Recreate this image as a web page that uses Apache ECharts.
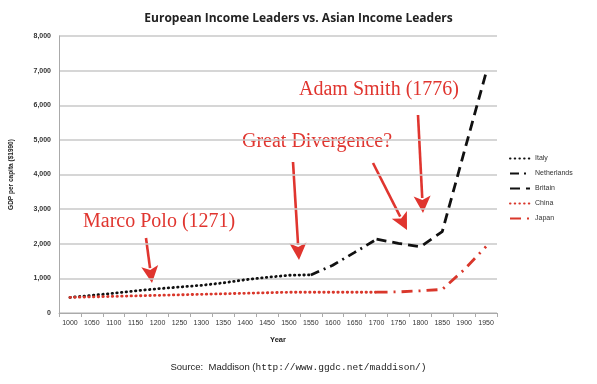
<!DOCTYPE html>
<html>
<head>
<meta charset="utf-8">
<script src="https://cdn.jsdelivr.net/npm/echarts@6/dist/echarts.min.js"></script>
<style>
html,body{margin:0;padding:0;background:#fff;}
#chart{width:597px;height:384px;}
</style>
</head>
<body>
<div id="chart"></div>
<script>
// ---- Data ----
const years = ['1000','1050','1100','1150','1200','1250','1300','1350','1400','1450','1500','1550','1600','1650','1700','1750','1800','1850','1900','1950'];
const italy       = [450, 510, 570, 640, 700, 750, 800, 870, 960, 1030, 1090, 1100, null, null, null, null, null, null, null, null];
const netherlands = [null, null, null, null, null, null, null, null, null, null, null, 1100, 1380, 1750, 2130, null, null, null, null, null];
const britain     = [null, null, null, null, null, null, null, null, null, null, null, null, null, null, 2130, 2010, 1910, 2350, 4650, 6940];
const china       = [450, 465, 480, 495, 510, 525, 540, 555, 570, 585, 600, 600, 600, 600, 600, null, null, null, null, null];
const japan       = [null, null, null, null, null, null, null, null, null, null, null, null, null, null, 600, 610, 640, 680, 1250, 1920];
const yTicks = { min: 0, max: 8000, interval: 1000 };

const BLACK = '#111111';
const RED = '#d9372b';
const ARED = '#e0352f';

function arrow(x1, y1, x2, y2) {
  const hl = 17, hw = 8.5;
  const dx = x2 - x1, dy = y2 - y1, len = Math.sqrt(dx*dx + dy*dy);
  const ux = dx/len, uy = dy/len;
  const bx = x2 - ux*hl, by = y2 - uy*hl;
  const px = -uy, py = ux;
  return [
    { type: 'line', shape: { x1: x1, y1: y1, x2: bx + ux*2, y2: by + uy*2 }, style: { stroke: ARED, lineWidth: 2.6 } },
    { type: 'polygon', shape: { points: [[x2, y2], [bx + px*hw, by + py*hw], [bx + ux*4, by + uy*4], [bx - px*hw, by - py*hw]] }, style: { fill: ARED } }
  ];
}

function annText(txt, x, y) {
  return { type: 'text', left: x, top: y, style: { text: txt, font: '20px "Liberation Serif", "DejaVu Serif", serif', fill: ARED } };
}

const chart = echarts.init(document.getElementById('chart'), null, { renderer: 'canvas' });
const dotsLine = (c) => ({ color: c, width: 2.8, type: [0.5, 4.2], cap: 'round' });

chart.setOption({
  animation: false,
  backgroundColor: '#fff',
  title: {
    text: 'European Income Leaders vs. Asian Income Leaders',
    left: 'center', top: 8,
    textStyle: { fontFamily: '"Open Sans", "Liberation Sans", sans-serif', fontWeight: 'bold', fontSize: 12, color: '#222' }
  },
  grid: { left: 57, right: 100, top: 36, bottom: 71 },
  legend: {
    orient: 'vertical', left: 504, top: 150, itemGap: 8, itemWidth: 20, itemHeight: 8,
    itemStyle: { opacity: 0 },
    textStyle: { fontSize: 7, color: '#333', fontFamily: '"Liberation Sans", sans-serif' },
    data: ['Italy', 'Netherlands', 'Britain', 'China', 'Japan']
  },
  xAxis: {
    type: 'category', data: years, boundaryGap: true,
    name: 'Year', nameLocation: 'middle', nameGap: 23,
    nameTextStyle: { fontSize: 7.5, fontWeight: 'bold', color: '#222', fontFamily: '"Liberation Sans", sans-serif' },
    axisLine: { lineStyle: { color: '#aaa', width: 1 } },
    axisTick: { show: true, length: 4, lineStyle: { color: '#aaa' } },
    axisLabel: { fontSize: 7, color: '#333', margin: 7, interval: 0, fontFamily: '"Liberation Sans", sans-serif' }
  },
  yAxis: {
    type: 'value', min: yTicks.min, max: yTicks.max, interval: yTicks.interval,
    name: 'GDP per capita ($1990)', nameLocation: 'middle', nameRotate: 90, nameGap: 44,
    nameTextStyle: { fontSize: 6.5, fontWeight: 'bold', color: '#222', fontFamily: '"Liberation Sans", sans-serif' },
    axisLine: { show: true, lineStyle: { color: '#aaa' } },
    axisTick: { show: false },
    splitLine: { lineStyle: { color: '#c8c8c8', width: 1.5 } },
    axisLabel: { fontSize: 7, color: '#333', margin: 8, fontWeight: 'bold', fontFamily: '"Liberation Sans", sans-serif',
      formatter: v => v.toLocaleString('en-US') }
  },
  series: [
    { name: 'Italy', type: 'line', data: italy, showSymbol: false, symbol: 'none', lineStyle: dotsLine(BLACK), itemStyle: { color: BLACK } },
    { name: 'Netherlands', type: 'line', data: netherlands, showSymbol: false, symbol: 'none', lineStyle: { color: BLACK, width: 2.8, type: [9, 5, 2, 5] }, itemStyle: { color: BLACK } },
    { name: 'Britain', type: 'line', data: britain, showSymbol: false, symbol: 'none', lineStyle: { color: BLACK, width: 2.8, type: [10, 6] }, itemStyle: { color: BLACK } },
    { name: 'China', type: 'line', data: china, showSymbol: false, symbol: 'none', lineStyle: dotsLine(RED), itemStyle: { color: RED } },
    { name: 'Japan', type: 'line', data: japan, showSymbol: false, symbol: 'none', lineStyle: { color: RED, width: 2.8, type: [11, 6, 2, 6] }, itemStyle: { color: RED } }
  ],
  graphic: [
    annText('Adam Smith (1776)', 299, 80),
    annText('Great Divergence?', 242, 132),
    annText('Marco Polo (1271)', 83, 212),
    ...arrow(146, 238, 152, 283),
    ...arrow(293, 162, 299, 260),
    ...arrow(373, 163, 407, 230),
    ...arrow(418, 115, 423, 213),
    {
      type: 'text', left: 'center', top: 362,
      style: {
        text: '{s|Source:  Maddison (}{m|http://www.ggdc.net/maddison/)}',
        rich: {
          s: { font: '9.5px "Liberation Sans", "DejaVu Sans", sans-serif', fill: '#222' },
          m: { font: '9.5px "Liberation Mono", "DejaVu Sans Mono", monospace', fill: '#222' }
        }
      }
    }
  ]
});
</script>
</body>
</html>
